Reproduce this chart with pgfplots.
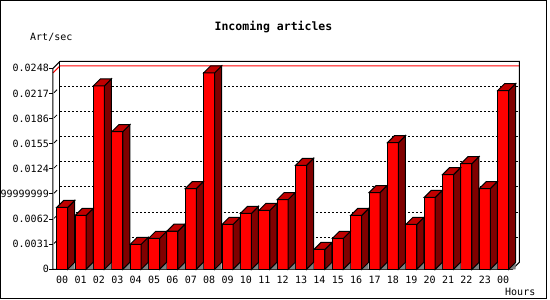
\documentclass[border=0pt]{standalone}
\usepackage{fontspec}
\setmainfont{DejaVu Sans Mono}
\usepackage{pgfplots}
\usepackage{pgfplotstable}
\pgfplotsset{compat=1.18}
\definecolor{barfront}{RGB}{255,0,0}
\definecolor{barside}{RGB}{128,0,0}
\definecolor{bartop}{RGB}{192,0,0}
\definecolor{shadowgray}{RGB}{128,128,128}

\pgfplotstableread{
x v
0 0.00763
1 0.00664
2 0.02264
3 0.01698
4 0.00308
5 0.00381
6 0.00471
7 0.00996
8 0.02424
9 0.00554
10 0.00689
11 0.00726
12 0.00861
13 0.01283
14 0.00246
15 0.00381
16 0.00664
17 0.00947
18 0.01562
19 0.00554
20 0.00886
21 0.01169
22 0.01304
23 0.00996
24 0.02206
}\articles

\pgfdeclareplotmark{bar3d}{%
  \pgfmathsetmacro\bh{\rawy*8104.84}%
  \pgfsetlinewidth{1pt}%
  \pgfsetstrokecolor{black}%
  \pgfsetfillcolor{shadowgray}%
  \pgfpathmoveto{\pgfpoint{5.5pt}{-\bh pt}}%
  \pgfpathlineto{\pgfpoint{12.5pt}{7pt-\bh pt}}%
  \pgfpathlineto{\pgfpoint{12.5pt}{-\bh pt}}%
  \pgfpathclose
  \pgfusepath{fill}%
  \pgfsetfillcolor{barside}%
  \pgfpathmoveto{\pgfpoint{5.5pt}{0pt}}%
  \pgfpathlineto{\pgfpoint{12.5pt}{7pt}}%
  \pgfpathlineto{\pgfpoint{12.5pt}{7pt-\bh pt}}%
  \pgfpathlineto{\pgfpoint{5.5pt}{-\bh pt}}%
  \pgfpathclose
  \pgfusepath{fill,stroke}%
  \pgfsetfillcolor{bartop}%
  \pgfpathmoveto{\pgfpoint{-5.5pt}{0pt}}%
  \pgfpathlineto{\pgfpoint{5.5pt}{0pt}}%
  \pgfpathlineto{\pgfpoint{12.5pt}{7pt}}%
  \pgfpathlineto{\pgfpoint{1.5pt}{7pt}}%
  \pgfpathclose
  \pgfusepath{fill,stroke}%
}

\begin{document}
\begin{tikzpicture}[x=1pt,y=1pt]
\fill[white] (0,0) rectangle (550,300);
\useasboundingbox (0,0) rectangle (550,300);
\draw[line width=1pt] (0.5,1.5) rectangle (546.5,299.5);
\node[font=\bfseries\fontsize{11.5}{13}\selectfont, anchor=base, inner sep=0pt] at (273.5,269) {Incoming articles};
\node[font=\fontsize{10}{12}\selectfont, anchor=base west, inner sep=0pt] at (30,259.7) {Art/sec};
\node[font=\fontsize{10}{12}\selectfont, anchor=base west, inner sep=0pt] at (505,4.3) {Hours};
\begin{axis}[
  at={(53pt,30.7pt)}, anchor=south west, scale only axis,
  width=459.4pt, height=201pt,
  xmin=-0.5, xmax=24.5, ymin=0, ymax=0.0248,
  clip=false,
  scaled y ticks=false, scaled x ticks=false,
  axis line style={draw=none},
  tick align=outside, xtick pos=bottom, ytick pos=left,
  major tick length=4pt, minor tick length=4pt,
  xtick={0,...,24},
  xticklabels={00,01,02,03,04,05,06,07,08,09,10,11,12,13,14,15,16,17,18,19,20,21,22,23,00},
  xtick style={draw=none},
  minor xtick={-0.5,0.5,...,24.5},
  minor tick style={black, line width=1pt},
  ytick={0,0.0031,0.0062,0.0093,0.0124,0.0155,0.0186,0.0217,0.0248},
  yticklabels={0\hspace{4.7pt},0.0031,0.0062,0.0092999999999999,0.0124,0.0155,0.0186,0.0217,0.0248},
  ytick style={black, line width=1pt},
  xticklabel style={font=\fontsize{10}{12}\selectfont, inner sep=0pt, anchor=north, yshift=-2.7pt},
  yticklabel style={font=\fontsize{10}{12}\selectfont, inner sep=0pt, anchor=east},
]
  % grid lines on the back plane
  \pgfplotsinvokeforeach{0.0031,0.0062,0.0093,0.0124,0.0155,0.0186,0.0217}{
    \draw[line width=1pt, dash pattern=on 2pt off 2pt] ([shift={(7pt,7pt)}]axis cs:-0.5,#1) -- ([shift={(7pt,7pt)}]axis cs:24.5,#1);
    \draw[line width=0.8pt] ([shift={(1pt,0.7pt)}]axis cs:-0.5,#1) -- ++(3pt,3pt);
  }
  % max line
  \draw[red, line width=1pt] (axis cs:-0.5,0.02424) -- ++(7pt,7pt) -- ([shift={(7pt,7pt)}]axis cs:24.5,0.02424);
  % frame of the 3D box
  \draw[line width=1pt] ([shift={(7pt,7pt)}]axis cs:-0.5,0) -- ([shift={(7pt,7pt)}]axis cs:-0.5,0.0248);
  \draw[line width=1pt] (axis cs:-0.5,0) -- (axis cs:-0.5,0.0248) -- ++(7pt,7pt)
     -- ([shift={(7pt,7pt)}]axis cs:24.5,0.0248) -- ([shift={(7pt,7pt)}]axis cs:24.5,0)
     -- (axis cs:24.5,0) -- cycle;
  % bars: front faces
  \addplot[ybar, bar width=11pt, fill=barfront, draw=black, line width=1pt] table[x=x, y=v] {\articles};
  % bars: side, top and floor shadow
  \addplot[only marks, mark=bar3d, visualization depends on={rawy \as \rawy}] table[x=x, y=v] {\articles};
\end{axis}
\end{tikzpicture}
\end{document}
